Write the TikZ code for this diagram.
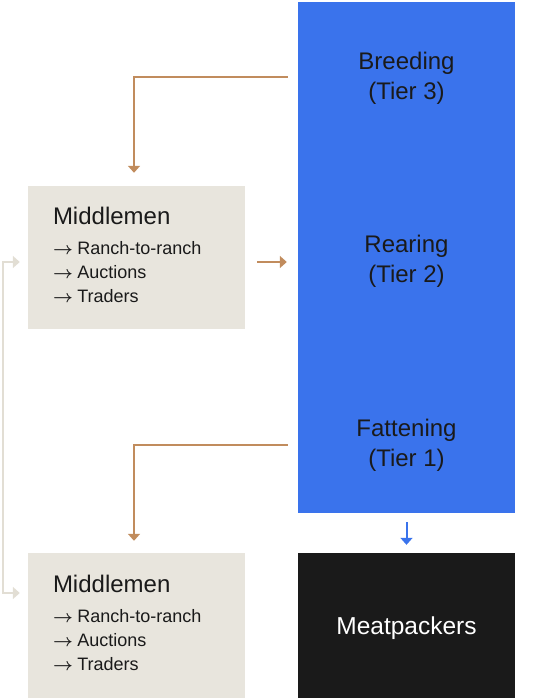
\documentclass[tikz,border=0pt]{standalone}
\usepackage{fontspec}
\setmainfont{Liberation Sans}
\usetikzlibrary{arrows.meta}
\definecolor{tierblue}{RGB}{58,115,236}
\definecolor{boxbeige}{RGB}{232,229,221}
\definecolor{linkbeige}{RGB}{226,222,212}
\definecolor{flowbrown}{RGB}{193,140,93}
\definecolor{ink}{RGB}{26,26,26}
\newcommand{\via}{{\boldmath$\rightarrow$}\hspace{4.5pt}}
\begin{document}
\begin{tikzpicture}[x=1pt, y=-1pt, >={Triangle[width=12pt,length=7pt]},
  tier/.style={fill=tierblue, text=ink, minimum width=217pt, inner sep=0pt, align=center, font=\fontsize{24}{30}\selectfont},
  trader/.style={fill=boxbeige, text=ink, minimum width=217pt, inner xsep=25pt, inner ysep=0pt, text width=167pt, align=left, font=\fontsize{18}{24}\selectfont},
  feed/.style={draw=flowbrown, line width=2pt, ->},
  link/.style={draw=linkbeige, line width=2pt, <->}]
\useasboundingbox (0,0) rectangle (540,698);
% supply chain column
\node[tier, minimum height=153pt] (breed) at (406.5,78.5) {Breeding\\(Tier 3)};
\node[tier, minimum height=146pt] (rear) at (406.5,261.5) {Rearing\\(Tier 2)};
\node[tier, minimum height=136pt] (fatt) at (406.5,445) {Fattening\\(Tier 1)};
\fill[tierblue] ([yshift=1pt]breed.south west) rectangle ([yshift=-1pt]rear.north east);
\fill[tierblue] ([yshift=1pt]rear.south west) rectangle ([yshift=-1pt]fatt.north east);
\node[fill=ink, text=white, minimum width=217pt, minimum height=145pt, text depth=0pt, font=\fontsize{24.5}{30}\selectfont] (meat) at (406.5,625.5) {Meatpackers};
% middlemen
\node[trader, minimum height=143pt] (mid1) at (136.5,257.5) {{\fontsize{24}{28}\selectfont Middlemen}\\[6pt]\via Ranch-to-ranch\\\via Auctions\\\via Traders\par\vspace{5pt}};
\node[trader, minimum height=145pt] (mid2) at (136.5,625.5) {{\fontsize{24}{28}\selectfont Middlemen}\\[6pt]\via Ranch-to-ranch\\\via Auctions\\\via Traders\par\vspace{5pt}};
% flows
\draw[feed, shorten <=10pt, shorten >=13pt] ([yshift=1.5pt]breed.west) -| ([xshift=-2.5pt]mid1.north);
\draw[feed, shorten <=10pt, shorten >=12pt] (fatt.west) -| ([xshift=-2.5pt]mid2.north);
\draw[feed, shorten <=12pt, shorten >=11pt] ([yshift=-4.5pt]mid1.east) -- ([yshift=-4.5pt]mid1.east -| rear.west);
\draw[draw=tierblue, line width=2pt, ->, shorten <=9pt, shorten >=8pt] (fatt.south) -- (meat.north);
\draw[link, shorten <=8pt, shorten >=8pt] ([yshift=-4.5pt]mid1.west) -- ++(-25,0) |- ([yshift=32.5pt]mid2.west);
\end{tikzpicture}
\end{document}
